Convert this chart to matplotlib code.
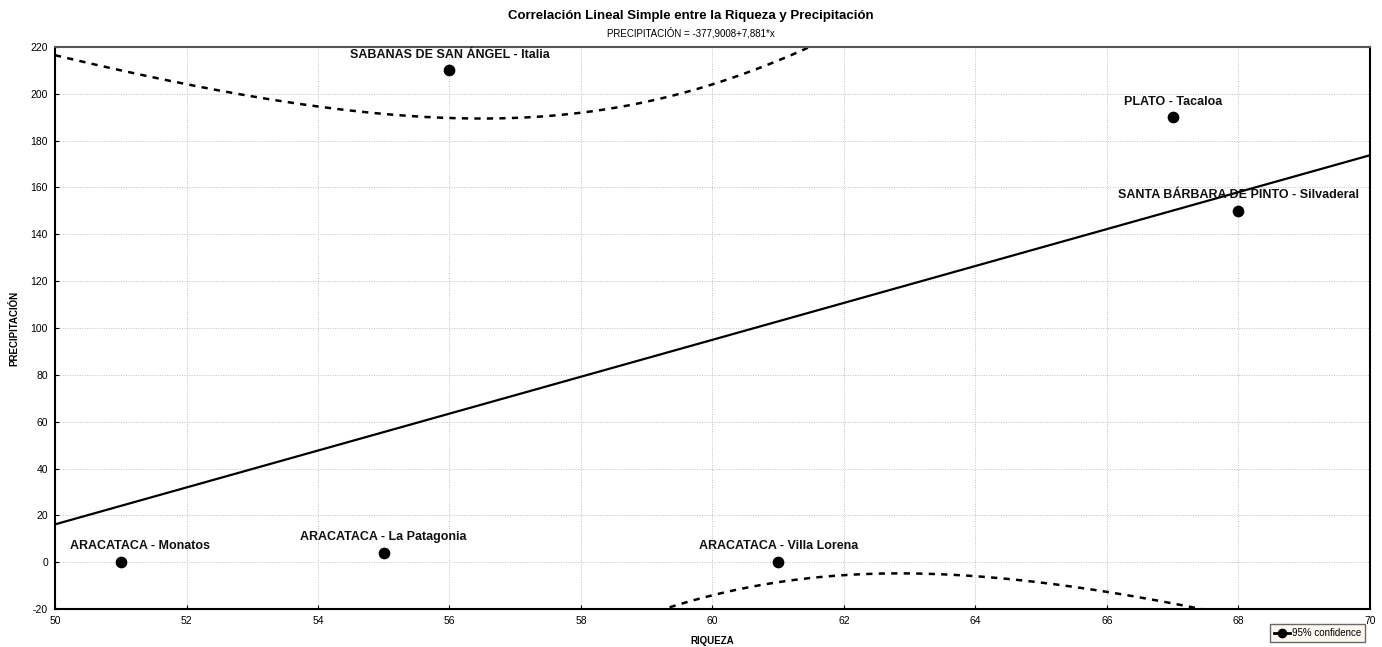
import numpy as np
import matplotlib.pyplot as plt
from matplotlib.lines import Line2D

plt.rcParams['font.family'] = ['Liberation Sans', 'DejaVu Sans']
plt.rcParams['axes.unicode_minus'] = False

# Data
riqueza = np.array([51, 55, 56, 61, 67, 68])
precipitacion = np.array([0, 4, 210, 0, 190, 150])
etiquetas = [
    'ARACATACA - Monatos',
    'ARACATACA - La Patagonia',
    'SABANAS DE SAN ÁNGEL - Italia',
    'ARACATACA - Villa Lorena',
    'PLATO - Tacaloa',
    'SANTA BÁRBARA DE PINTO - Silvaderal',
]
x_ticks = np.arange(50, 71, 2)
y_ticks = np.arange(-20, 221, 20)

# Linear fit and 95% confidence band of the mean
n = len(riqueza)
slope, intercept = np.polyfit(riqueza, precipitacion, 1)
resid = precipitacion - (intercept + slope * riqueza)
s = np.sqrt(np.sum(resid ** 2) / (n - 2))
xm = riqueza.mean()
sxx = np.sum((riqueza - xm) ** 2)
t_crit = 2.7764  # t(0.975, df=4)

xs = np.linspace(50, 70, 400)
fit = intercept + slope * xs
se = s * np.sqrt(1.0 / n + (xs - xm) ** 2 / sxx)
upper = fit + t_crit * se
lower = fit - t_crit * se

fig = plt.figure(figsize=(13.82, 6.47), dpi=100)
ax = fig.add_axes([0.0398, 0.0587, 0.9515, 0.8687])

ax.plot(xs, fit, color='black', lw=1.6)
ax.plot(xs, upper, color='black', lw=1.8, ls=(0, (2.5, 2.5)))
ax.plot(xs, lower, color='black', lw=1.8, ls=(0, (2.5, 2.5)))
ax.scatter(riqueza, precipitacion, s=55, color='black', zorder=5)

# label offsets in points (Statistica keeps the first label inside the frame)
offsets = {0: (14, 7)}
for i, (x, y, lab) in enumerate(zip(riqueza, precipitacion, etiquetas)):
    dx, dy = offsets.get(i, (0, 7))
    ax.annotate(lab, (x, y), xytext=(dx, dy), textcoords='offset points',
                ha='center', va='bottom', fontsize=9, fontweight='bold',
                color='#111111')

ax.set_xlim(50, 70)
ax.set_ylim(-20, 220)
ax.set_xticks(x_ticks)
ax.set_yticks(y_ticks)
ax.tick_params(labelsize=7.5, length=3, direction='in', pad=5)
ax.grid(True, color='#c0c0c0', ls=(0, (1, 1.5)), lw=0.7)

for side in ['left', 'bottom', 'right']:
    ax.spines[side].set_color('black')
    ax.spines[side].set_linewidth(1.5)
ax.spines['top'].set_color('#555555')
ax.spines['top'].set_linewidth(1.5)

ax.set_xlabel('RIQUEZA', fontsize=7, fontweight='bold', labelpad=7)
ax.set_ylabel('PRECIPITACIÓN', fontsize=7, fontweight='bold', labelpad=8)

fig.text(0.5, 0.975, 'Correlación Lineal Simple entre la Riqueza y Precipitación',
         ha='center', va='center', fontsize=9.5, fontweight='bold')
fig.text(0.5, 0.949, 'PRECIPITACIÓN = -377,9008+7,881*x',
         ha='center', va='center', fontsize=7)

handle = Line2D([], [], color='black', marker='o', markersize=6, lw=2)
leg = fig.legend([handle], ['95% confidence'], loc='lower right',
                 bbox_to_anchor=(0.991, 0.0), fontsize=7, frameon=True,
                 fancybox=False, handlelength=1.6, handletextpad=0.2,
                 borderpad=0.4)
leg.get_frame().set_facecolor('#fdf8ee')
leg.get_frame().set_edgecolor('#444444')

fig.savefig('out.png', dpi=100)
